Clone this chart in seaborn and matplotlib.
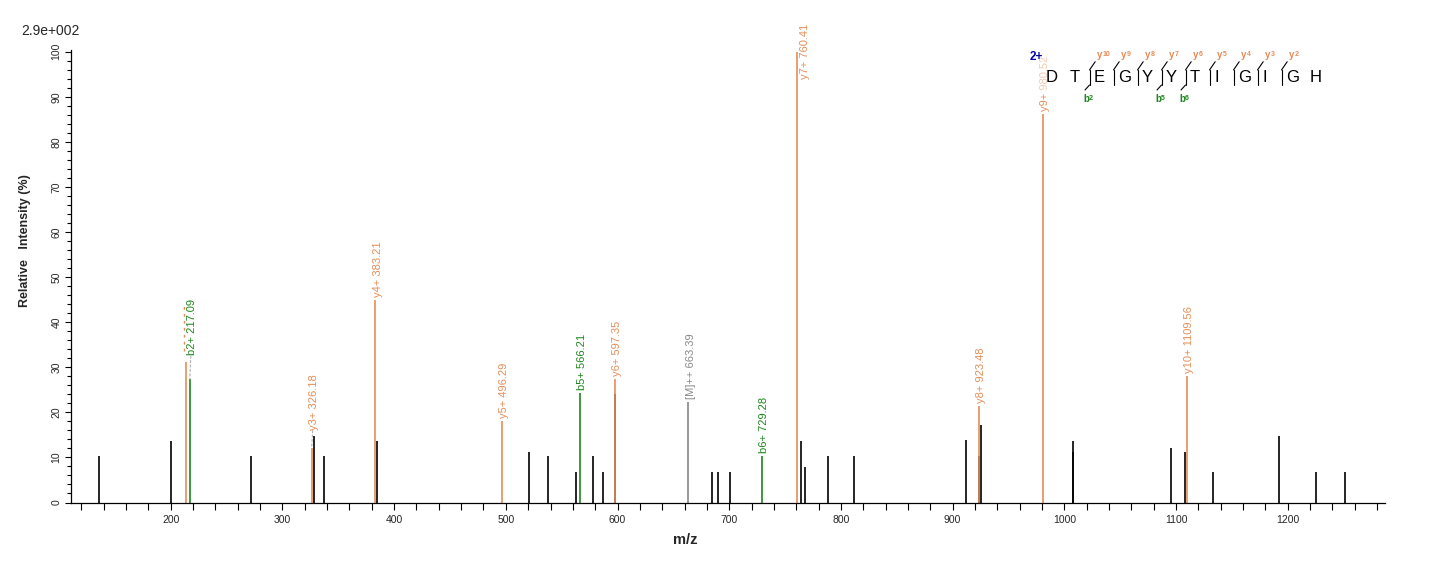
import numpy as np
import pandas as pd
import matplotlib
matplotlib.use('Agg')
import matplotlib.pyplot as plt
from matplotlib.ticker import MultipleLocator
from matplotlib.patches import Rectangle
import seaborn as sns

# unassigned peaks (m/z, relative intensity %)
other_mz = [135.8, 199.9, 272.2, 328.6, 337.5, 385.0, 521.0, 538.0, 563.1, 578.3,
            587.3, 598.1, 684.9, 690.3, 700.7, 764.6, 768.1, 788.7, 812.0, 911.7,
            923.9, 925.7, 1007.5, 1008.1, 1095.8, 1108.3, 1133.4, 1192.2, 1225.4, 1251.6]
other_int = [10.3, 13.6, 10.3, 14.7, 10.3, 13.6, 11.2, 10.3, 6.8, 10.3,
             6.8, 24.1, 6.8, 6.8, 6.8, 13.6, 7.9, 10.3, 10.3, 13.9,
             10.3, 17.2, 11.2, 13.6, 12.1, 11.2, 6.8, 14.7, 6.8, 6.8]

# assigned peaks
ion_mz = [214.0, 217.09, 326.18, 383.21, 496.29, 566.21, 597.35, 663.39,
          729.28, 760.41, 923.48, 980.52, 1109.56]
ion_int = [31.2, 27.4, 12.2, 44.9, 18.0, 24.2, 27.5, 22.2,
           10.3, 100.0, 21.4, 86.3, 28.1]
ion_label = ['', 'b2+ 217.09', 'y3+ 326.18', 'y4+ 383.21', 'y5+ 496.29', 'b5+ 566.21',
             'y6+ 597.35', '[M]++ 663.39', 'b6+ 729.28', 'y7+ 760.41', 'y8+ 923.48',
             'y9+ 980.52', 'y10+ 1109.56']
ion_type = ['y', 'b', 'y', 'y', 'y', 'b', 'y', 'M', 'b', 'y', 'y', 'y', 'y']
label_lift = [0, 21, 15, 0, 0, 0, 0, 0, 0, 0, 0, 0, 0]

# peptide sequence and fragment coverage
sequence = "DTEGYYTIGIGH"
y_breaks = [2, 3, 4, 5, 6, 7, 8, 9, 10]
b_breaks = [2, 5, 6]

colors = {'y': '#E58D58', 'b': '#1C861C', 'M': '#888888'}

sns.set_style('ticks')
plt.rcParams['font.family'] = ['Liberation Sans', 'DejaVu Sans']

fig = plt.figure(figsize=(14.36, 5.62), dpi=100)
ax = fig.add_axes([71 / 1436, 59.5 / 562, 1314 / 1436, 452.5 / 562])

ax.vlines(other_mz, 0, other_int, color='black', lw=1.2)

ions = pd.DataFrame({'mz': ion_mz, 'inten': ion_int, 'label': ion_label,
                     'kind': ion_type, 'lift': label_lift})
for _, r in ions.iterrows():
    col = colors[r['kind']]
    ax.vlines(r['mz'], 0, r['inten'], color=col, lw=1.2)
    if r['label'] == '':
        # label hidden behind neighbour: drawn as a dashed trace
        ax.vlines(r['mz'] - 2.5, r['inten'] + 2.5, r['inten'] + 12.5, color=col,
                  lw=1.0, linestyles=(0, (2, 3)))
        continue
    if r['inten'] > 95:
        ax.annotate(r['label'], (r['mz'], r['inten']), xytext=(8, 28),
                    textcoords='offset pixels', rotation=90, ha='center', va='top',
                    color=col, fontsize=8)
    else:
        ax.annotate(r['label'], (r['mz'], r['inten']), xytext=(2.5, 3 + r['lift']),
                    textcoords='offset pixels', rotation=90, ha='center', va='bottom',
                    color=col, fontsize=8)
    if r['lift'] > 0:
        ax.annotate('', xy=(r['mz'], r['inten']), xytext=(1, r['lift'] + 2),
                    textcoords='offset pixels',
                    arrowprops=dict(arrowstyle='-', color='#b0b0b0', lw=0.8,
                                    ls=(0, (2, 2)), shrinkA=0, shrinkB=0))

ax.set_xlim(110.7, 1287.1)
ax.set_ylim(0, 100.4)
sns.despine(ax=ax)
for s in ['left', 'bottom']:
    ax.spines[s].set_linewidth(0.9)
    ax.spines[s].set_color('black')

ax.xaxis.set_major_locator(MultipleLocator(100))
ax.xaxis.set_minor_locator(MultipleLocator(20))
ax.yaxis.set_major_locator(MultipleLocator(10))
ax.yaxis.set_minor_locator(MultipleLocator(2))
ax.tick_params(axis='x', which='both', direction='out', length=4.8, width=0.8,
               labelsize=7.5, pad=4, color='black')
ax.tick_params(axis='y', which='major', direction='out', length=4.3, width=0.8,
               labelsize=7.5, pad=2.5, labelrotation=90, color='black')
ax.tick_params(axis='y', which='minor', direction='out', length=3, width=0.8,
               color='black')
for t in ax.get_yticklabels():
    t.set_va('center')

ax.set_xlabel('m/z', fontsize=10.5, fontweight='bold')
ax.xaxis.set_label_coords((685 - 71) / 1314, (502.5 - 540) / 452.5)
ax.xaxis.label.set_va('center')
ax.set_ylabel('Relative   Intensity (%)', fontsize=9, fontweight='bold')
ax.yaxis.set_label_coords((25 - 71) / 1314, (502.5 - 241) / 452.5)
ax.yaxis.label.set_va('center')

fig.text(21 / 1436, 1 - 31 / 562, '2.9e+002', fontsize=10, ha='left', va='center')

# sequence annotation drawn in figure pixel coordinates
ov = fig.add_axes([0, 0, 1, 1], facecolor='none')
ov.set_xlim(0, 1436)
ov.set_ylim(562, 0)
ov.axis('off')

# translucent backdrop, the sequence sits over the y9 label
ov.add_patch(Rectangle((1036, 48), 295, 46, facecolor='white', edgecolor='none',
                       alpha=0.55, zorder=1))

slot_x0, slot_w = 1041.5, 24
for i, aa in enumerate(sequence):
    ov.text(slot_x0 + i * slot_w + 4.5, 81.7, aa, fontsize=12, ha='left',
            va='baseline', color='black', zorder=3)

for k in sorted(set(y_breaks) | set(b_breaks)):
    x = slot_x0 + k * slot_w
    ov.plot([x, x], [70, 85], color='black', lw=0.8, zorder=3)
    if k in y_breaks:
        n = len(sequence) - k
        ov.plot([x, x + 5.7], [70, 61.7], color='black', lw=0.8, zorder=3)
        ov.text(x + 7, 57.5, 'y', fontsize=7, fontweight='bold', color=colors['y'],
                ha='left', va='baseline', zorder=3)
        ov.text(x + 13, 55.5, str(n), fontsize=5, fontweight='bold',
                color=colors['y'], ha='left', va='baseline', zorder=3)
    if k in b_breaks:
        ov.plot([x, x - 4.5], [85, 90], color='black', lw=0.8, zorder=3)
        ov.text(x - 6.5, 101.5, 'b', fontsize=7, fontweight='bold', color=colors['b'],
                ha='left', va='baseline', zorder=3)
        ov.text(x - 1, 100.5, str(k), fontsize=5, fontweight='bold',
                color=colors['b'], ha='left', va='baseline', zorder=3)

ov.text(1030, 60, '2+', fontsize=8.5, fontweight='bold', color='#0000A8',
        ha='left', va='baseline', zorder=3)

fig.savefig('out.png', dpi=100)
